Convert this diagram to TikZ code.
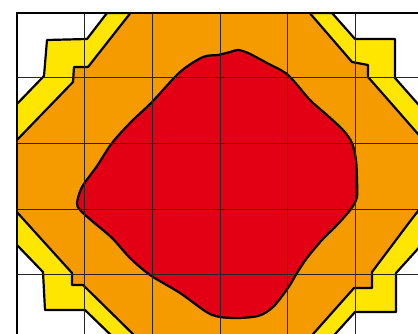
\documentclass[tikz,border=0pt]{standalone}
\begin{document}
\begin{tikzpicture}[x=1pt,y=-1pt,
  outline/.style={draw=black,line width=2.2pt,line join=round},
  gridline/.style={draw=black!85,line width=0.9pt},
  frameline/.style={draw=black,line width=2.8pt}]
\definecolor{cyellow}{RGB}{255,230,0}
\definecolor{corange}{RGB}{245,155,0}
\definecolor{cred}{RGB}{227,0,20}
\useasboundingbox (0,0) rectangle (418,334);
\begin{scope}
\clip (17,13) rectangle (423,340);
% outer yellow band
\filldraw[outline,fill=cyellow] (107,13) -- (332,13) -- (355,39) -- (395,39) -- (395,78) -- (425,112)
  -- (425,241) -- (396,273) -- (396,312) -- (355,312) -- (328,342) -- (118,342) -- (85,310)
  -- (45,310) -- (43,272) -- (15,243) -- (15,106) -- (44,76) -- (47,40) -- (87,39) -- cycle;
% orange region
\filldraw[outline,fill=corange] (132,11) -- (308,11) -- (352,62) -- (368,65) -- (368,77) -- (397,110)
  -- (425,142) -- (425,202) -- (408,224) -- (372,272) -- (372,288) -- (354,288) -- (306,342)
  -- (141,342) -- (83,285) -- (72,285) -- (72,273) -- (15,210) -- (15,142) -- (73,82)
  -- (74,67) -- (88,67) -- cycle;
% red blob
\filldraw[outline,fill=cred] plot[smooth cycle,tension=0.5] coordinates {
  (238,50) (248,53) (267,63) (288,75) (310,100) (327,115) (343,130) (352,143)
  (356,160) (357,180) (357,197) (351,209) (337,225) (322,240) (307,258) (297,273)
  (288,288) (273,307) (258,316) (232,318) (210,314) (180,293) (150,275) (130,258)
  (112,238) (92,221) (80,210) (77,203) (82,187) (97,166) (112,143) (131,122)
  (152,102) (180,72) (203,57) (218,55) (230,52)};
% grid
\foreach \gx in {84.7,152.3,220,287.7,355.3} {\draw[gridline] (\gx,13) -- (\gx,340);}
\foreach \gy in {77.5,143.8,209.5,274.6} {\draw[gridline] (17,\gy) -- (423,\gy);}
\end{scope}
\draw[frameline] (17,13) rectangle (423,340);
\end{tikzpicture}
\end{document}
